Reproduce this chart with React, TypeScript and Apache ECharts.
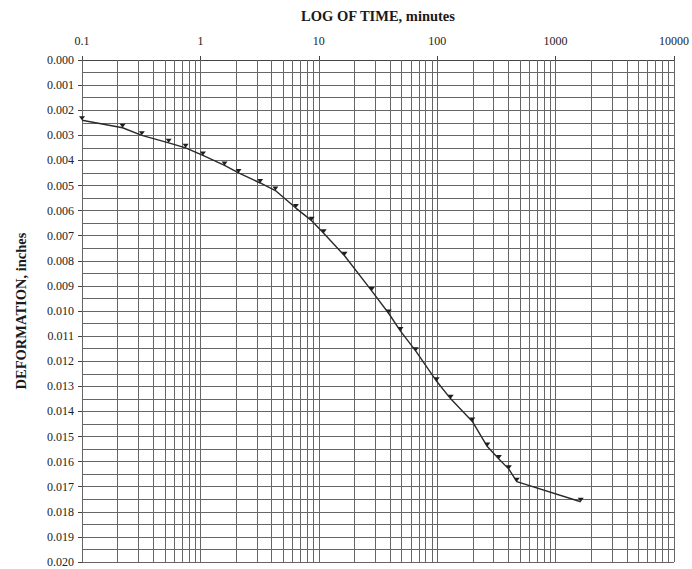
import React, { useEffect, useRef } from "react";
import * as echarts from "echarts";

// Time readings (minutes) and deformation (inches)
const timeMinutes = [
  0.1, 0.22, 0.32, 0.54, 0.75, 1.05, 1.6, 2.1, 3.2, 4.3, 6.4, 8.7, 11, 16.5,
  28, 39, 49, 66, 99, 130, 198, 265, 332, 403, 470, 1630,
];
const deformation = [
  0.0024, 0.0027, 0.003, 0.0033, 0.0035, 0.0038, 0.0042, 0.0045, 0.0049,
  0.0052, 0.0059, 0.0064, 0.0069, 0.0078, 0.0092, 0.0101, 0.0108, 0.0116,
  0.0128, 0.0135, 0.0144, 0.0154, 0.0159, 0.0163, 0.0168, 0.0176,
];
// Decade tick labels on the log time axis
const xTicks = [0.1, 1, 10, 100, 1000, 10000];
// Minor multipliers for the log grid (1..9 within each decade)
const logMultipliers = [1, 2, 3, 4, 5, 6, 7, 8, 9];
// Deformation axis range and label step
const yMin = 0;
const yMax = 0.02;
const yStep = 0.001;

const SERIF = "'Liberation Serif', 'DejaVu Serif', serif";
const GRID_COLOR = "#666666";

export default function App() {
  const ref = useRef<HTMLDivElement>(null);

  useEffect(() => {
    document.body.style.margin = "0";
    if (!ref.current) return;
    const chart = echarts.init(ref.current, undefined, { renderer: "svg" });

    const gridTimes: number[] = [];
    for (let i = 0; i < xTicks.length - 1; i++) {
      for (const m of logMultipliers) {
        gridTimes.push(parseFloat((xTicks[i] * m).toPrecision(6)));
      }
    }
    gridTimes.push(xTicks[xTicks.length - 1]);

    const data = timeMinutes.map((t, i) => [t, deformation[i]]);

    chart.setOption({
      animation: false,
      backgroundColor: "#ffffff",
      grid: { left: 82, right: 15, top: 60, bottom: 7, containLabel: false },
      xAxis: {
        type: "log",
        logBase: 10,
        min: xTicks[0],
        max: xTicks[xTicks.length - 1],
        position: "top",
        name: "LOG OF TIME, minutes",
        nameLocation: "middle",
        nameGap: 37,
        nameTextStyle: {
          fontFamily: SERIF,
          fontWeight: "bold",
          fontSize: 14.5,
          color: "#1a1a1a",
        },
        axisLine: { show: true, lineStyle: { color: "#444", width: 1 } },
        axisTick: { show: true, length: 4, lineStyle: { color: "#444" } },
        axisLabel: {
          fontFamily: SERIF,
          fontSize: 12,
          color: "#222",
          margin: 13,
          formatter: (v: number) => String(parseFloat(v.toPrecision(6))),
        },
        splitLine: { show: false },
        minorTick: { show: false },
      },
      yAxis: {
        type: "value",
        inverse: true,
        min: yMin,
        max: yMax,
        interval: yStep,
        name: "DEFORMATION, inches",
        nameLocation: "middle",
        nameGap: 54,
        nameTextStyle: {
          fontFamily: SERIF,
          fontWeight: "bold",
          fontSize: 14.5,
          color: "#1a1a1a",
        },
        axisLine: { show: true, lineStyle: { color: "#444", width: 1 } },
        axisTick: { show: true, length: 4, lineStyle: { color: "#444" } },
        axisLabel: {
          fontFamily: SERIF,
          fontSize: 12,
          color: "#222",
          margin: 8,
          formatter: (v: number) => v.toFixed(3),
        },
        splitLine: { show: true, lineStyle: { color: GRID_COLOR, width: 1 } },
        minorTick: { show: false, splitNumber: 2 },
        minorSplitLine: {
          show: true,
          lineStyle: { color: GRID_COLOR, width: 1 },
        },
      },
      series: [
        {
          type: "line",
          data,
          smooth: false,
          symbol: "triangle",
          symbolRotate: 180,
          symbolSize: [6, 4],
          symbolOffset: [0, -2],
          showSymbol: true,
          lineStyle: { color: "#2a2a2a", width: 1.4 },
          itemStyle: { color: "#1e1e1e" },
          silent: true,
          z: 5,
          markLine: {
            silent: true,
            symbol: ["none", "none"],
            label: { show: false },
            lineStyle: { color: GRID_COLOR, width: 1, type: "solid" },
            emphasis: { disabled: true },
            data: gridTimes.map((v) => ({ xAxis: v })),
            z: 1,
          },
        },
      ],
    });

    return () => {
      chart.dispose();
    };
  }, []);

  return <div ref={ref} style={{ width: 692, height: 569 }} />;
}
